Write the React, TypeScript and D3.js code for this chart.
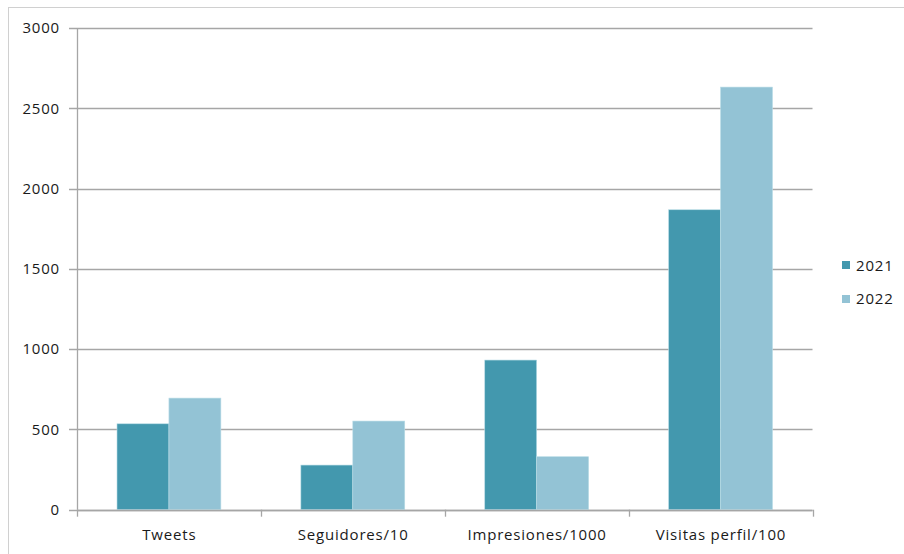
import React from "react";
import * as d3 from "d3";

const categories = ["Tweets", "Seguidores/10", "Impresiones/1000", "Visitas perfil/100"];
const seriesNames = ["2021", "2022"];
const values2021 = [535, 278, 932, 1868];
const values2022 = [695, 552, 330, 2632];
const yTicks = [0, 500, 1000, 1500, 2000, 2500, 3000];
const colors = ["#4398AE", "#93C3D5"];

export default function App() {
  const W = 904, H = 554;
  const left = 77, right = 812.5, top = 28, bottom = 509.7;
  const x = d3.scaleBand<string>().domain(categories).range([left, right]).paddingInner(0).paddingOuter(0);
  const y = d3.scaleLinear().domain([0, 3000]).range([bottom, top]);
  const bw = x.bandwidth();
  const barW = bw / (2 + 1.54);
  const series = [values2021, values2022];
  const font = "'Open Sans', sans-serif";
  const fs = 15;
  const ls = 0.8;
  return (
    <svg width={W} height={H} style={{ position: "absolute", left: 0, top: 0, background: "#fff" }}>
      <rect x={8.5} y={7.5} width={W + 10} height={H + 10} fill="#fff" stroke="#D0D0D0" strokeWidth={1} />
      {yTicks.map((t) => (
        <g key={t}>
          <line x1={69} x2={right} y1={Math.round(y(t)) + 0.5} y2={Math.round(y(t)) + 0.5} stroke="#A6A6A6" strokeWidth={1.3} />
          <text x={60} y={y(t)} dy="0.35em" textAnchor="end" fontFamily={font} fontSize={fs} letterSpacing={ls} fill="#1a1a1a">{t}</text>
        </g>
      ))}
      {series.map((vals, si) =>
        categories.map((c, ci) => {
          const x0 = (x(c) as number) + (bw - 2 * barW) / 2 + si * barW;
          return (
            <rect key={si + "-" + ci} x={x0} y={y(vals[ci])} width={barW} height={bottom - y(vals[ci])}
              fill={colors[si]} stroke="#B9DCE6" strokeWidth={0.6} />
          );
        })
      )}
      <line x1={left + 0.5} x2={left + 0.5} y1={top} y2={bottom} stroke="#A6A6A6" strokeWidth={1.3} />
      <line x1={left} x2={right} y1={Math.round(bottom) + 0.5} y2={Math.round(bottom) + 0.5} stroke="#A6A6A6" strokeWidth={1.3} />
      {[...categories.map((c) => x(c) as number), right].map((px, i) => (
        <line key={i} x1={Math.round(px) + 0.5} x2={Math.round(px) + 0.5} y1={bottom} y2={bottom + 7} stroke="#A6A6A6" strokeWidth={1.3} />
      ))}
      {categories.map((c) => (
        <text key={c} x={(x(c) as number) + bw / 2 + ls / 2} y={540} textAnchor="middle" fontFamily={font} fontSize={fs} letterSpacing={ls} fill="#1a1a1a">{c}</text>
      ))}
      {seriesNames.map((s, i) => (
        <g key={s}>
          <rect x={842} y={261 + i * 34} width={8} height={8} fill={colors[i]} />
          <text x={856} y={266 + i * 33} dy="0.35em" fontFamily={font} fontSize={fs} letterSpacing={ls} fill="#1a1a1a">{s}</text>
        </g>
      ))}
    </svg>
  );
}
